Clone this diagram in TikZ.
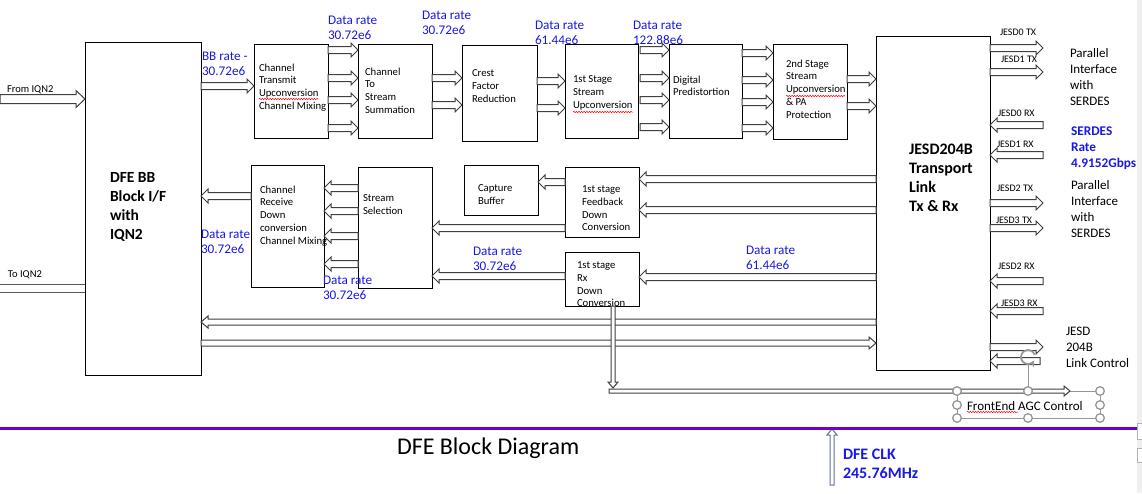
\documentclass[tikz,border=0pt]{standalone}
\usepackage{fontspec}
\setmainfont{Carlito}
\usetikzlibrary{calc,decorations.pathmorphing}
\definecolor{dblue}{RGB}{25,25,230}
\definecolor{purp}{RGB}{110,0,205}
\definecolor{hgray}{RGB}{150,150,150}
\definecolor{clkc}{RGB}{100,115,150}
\newcommand{\BAs}{3.5pt}
\newcommand{\BAh}{7pt}
\newcommand{\BAl}{7pt}
\begin{document}
\begin{tikzpicture}[x=1pt,y=-1pt,
  box/.style={draw=black, line width=0.9pt, inner sep=0pt, outer sep=0pt, anchor=north west, fill=white},
  tx/.style={inner sep=0pt, outer sep=0pt, anchor=north west, align=left},
  tb/.style={tx, font=\fontsize{10.7}{12.75}\selectfont, yshift=3.2pt},
  tblue/.style={tx, text=dblue, font=\fontsize{13.2}{15.7}\selectfont, yshift=3.4pt},
  tbold/.style={tx, font=\bfseries\fontsize{15.5}{19.3}\selectfont, yshift=4pt},
  tjesd/.style={tx, font=\bfseries\fontsize{16}{19}\selectfont, yshift=4.2pt},
  tsm/.style={tx, font=\fontsize{10}{12}\selectfont, yshift=2.3pt},
  tmid/.style={tx, font=\fontsize{13}{16}\selectfont, yshift=3.6pt},
  tserdes/.style={tx, text=dblue, font=\bfseries\fontsize{13.3}{16}\selectfont, yshift=3.3pt},
  barrow/.style={draw=black!75, fill=white, line width=1pt, line join=miter,
    to path={let \p1=(\tikztostart), \p2=(\tikztotarget),
      \n1={veclen(\x2-\x1,\y2-\y1)}, \n2={atan2(\y2-\y1,\x2-\x1)} in
      ([shift={(\p1)},rotate=\n2]0pt,\BAs)
      -- ([shift={(\p1)},rotate=\n2]\n1*1pt-\BAl,\BAs)
      -- ([shift={(\p1)},rotate=\n2]\n1*1pt-\BAl,\BAh)
      -- ([shift={(\p1)},rotate=\n2]\n1*1pt,0pt)
      -- ([shift={(\p1)},rotate=\n2]\n1*1pt-\BAl,-\BAh)
      -- ([shift={(\p1)},rotate=\n2]\n1*1pt-\BAl,-\BAs)
      -- ([shift={(\p1)},rotate=\n2]0pt,-\BAs) -- cycle}},
  bigarr/.style={/utils/exec={\def\BAs{4.5pt}\def\BAh{8.5pt}\def\BAl{9pt}}},
  medarr/.style={/utils/exec={\def\BAs{3pt}\def\BAh{6pt}\def\BAl{7pt}}},
  thinarr/.style={/utils/exec={\def\BAs{2pt}\def\BAh{5pt}\def\BAl{6pt}}},
  shaftln/.style={draw=black!65, line width=0.9pt},
  spell/.style={red, line width=0.5pt, decorate, decoration={snake, amplitude=0.7pt, segment length=2.6pt}},
  handle/.style={draw=hgray, fill=white, line width=1.3pt},
]
\useasboundingbox (0,0) rectangle (1142,493);
\fill[white] (0,0) rectangle (1142,493);
\fill[gray!12] (1137,0) rectangle (1142,493);

% ---------- boxes ----------
\node[box, minimum width=116pt, minimum height=333pt] (dfe) at (85,42) {};
\node[box, minimum width=74pt, minimum height=94pt] (ctx) at (254,44) {};
\node[box, minimum width=74pt, minimum height=94pt] (css) at (358,44) {};
\node[box, minimum width=75pt, minimum height=96pt] (cfr) at (462,45) {};
\node[box, minimum width=73pt, minimum height=94pt] (su1) at (565,44) {};
\node[box, minimum width=73pt, minimum height=94pt] (dpd) at (669,44) {};
\node[box, minimum width=74pt, minimum height=95pt] (su2) at (773,44) {};
\node[box, minimum width=114pt, minimum height=334pt] (jesd) at (876,36) {};
\node[box, minimum width=73pt, minimum height=122pt] (crx) at (251,165) {};
\node[box, minimum width=74pt, minimum height=121pt] (ssel) at (358,167) {};
\node[box, minimum width=74pt, minimum height=50pt] (cap) at (464,165) {};
\node[box, minimum width=74pt, minimum height=70pt] (fb) at (565,167) {};
\node[box, minimum width=74pt, minimum height=54pt] (rx) at (565,252) {};

% ---------- free ends ----------
\coordinate (iqnin) at (0,99);
\coordinate (toiqn) at (0,288);
\coordinate (serR) at (1043,0);
\coordinate (serL) at (1040,0);
\coordinate (agcdrop) at (613,388);
\coordinate (agc0) at (609,391);
\coordinate (agc1) at (1070,391);
\coordinate (clk0) at (832,485);
\coordinate (clk1) at (832,429);

% ---------- block arrows ----------
\draw[barrow,bigarr] (iqnin) to (dfe.west |- iqnin);
\draw[shaftln] ($(toiqn)+(0,-4)$) -- ($(dfe.west |- toiqn)+(0,-4)$);
\draw[shaftln] ($(toiqn)+(0,4)$) -- ($(dfe.west |- toiqn)+(0,4)$);
\draw[barrow] (dfe.east |- 0,86) to (ctx.west |- 0,86);
\foreach \yy in {50,78,100,128} \draw[barrow] (ctx.east |- 0,\yy) to (css.west |- 0,\yy);
\foreach \yy in {78,105} \draw[barrow] (css.east |- 0,\yy) to (cfr.west |- 0,\yy);
\foreach \yy in {81,108} \draw[barrow] (cfr.east |- 0,\yy) to (su1.west |- 0,\yy);
\foreach \yy in {50,78,100,127} \draw[barrow] ($(su1.east |- 0,\yy)+(2,0)$) to (dpd.west |- 0,\yy);
\foreach \yy in {53,80,102,128} \draw[barrow] (dpd.east |- 0,\yy) to (su2.west |- 0,\yy);
\foreach \yy in {79,106} \draw[barrow] (su2.east |- 0,\yy) to (jesd.west |- 0,\yy);
\foreach \yy in {48,72,203,228} \draw[barrow] (jesd.east |- 0,\yy) to (serR |- 0,\yy);
\foreach \yy in {125,155,281,311} \draw[barrow] (serR |- 0,\yy) to (jesd.east |- 0,\yy);
\draw[barrow] (jesd.east |- 0,347) to (serR |- 0,347);
\draw[barrow] (serL |- 0,361) to (jesd.east |- 0,361);
\foreach \yy in {179,210} \draw[barrow] (jesd.west |- 0,\yy) to (fb.east |- 0,\yy);
\draw[barrow] (fb.west |- 0,182) to (cap.east |- 0,182);
\draw[barrow] (fb.west |- 0,228) to (ssel.east |- 0,228);
\draw[barrow] (rx.west |- 0,276) to (ssel.east |- 0,276);
\draw[barrow] (jesd.west |- 0,277) to (rx.east |- 0,277);
\foreach \yy in {188,211,236,264} \draw[barrow] (ssel.west |- 0,\yy) to (crx.east |- 0,\yy);
\draw[barrow] (crx.west |- 0,196) to (dfe.east |- 0,196);
\draw[barrow,medarr] (jesd.west |- 0,322) to (dfe.east |- 0,322);
\draw[barrow,medarr] (dfe.east |- 0,343) to (jesd.west |- 0,343);
\draw[barrow,thinarr] (613,0 |- rx.south) to (agcdrop);

% AGC selection frame
\draw[hgray, line width=0.7pt] (957,391) rectangle (1100,418);
\draw[hgray, line width=0.7pt] (1028,364) -- (1028,391);
\draw[barrow,thinarr] (agc0) to (agc1);
\draw[barrow,thinarr,draw=clkc] (clk0) to (clk1);

% ---------- texts ----------
\node[tbold] (tdfe) at (110,176) {DFE BB\\Block I/F\\with\\IQN2};
\node[tb] (tctx) at (259,67) {Channel\\Transmit\\Upconversion\\Channel Mixing};
\node[tb] (tcss) at (365,71) {Channel\\To\\Stream\\Summation};
\node[tb] (tcfr) at (472,73) {Crest\\Factor\\Reduction};
\node[tb] (tsu1) at (573,79) {1st Stage\\Stream\\Upconversion};
\node[tb] (tdpd) at (673,79) {Digital\\Predistortion};
\node[tb] (tsu2) at (786,63) {2nd Stage\\Stream\\Upconversion\\\& PA\\Protection};
\node[tjesd] (tjesd) at (909,148) {JESD204B\\Transport\\Link\\Tx \& Rx};
\node[tb] (tcrx) at (260,189) {Channel\\Receive\\Down\\conversion\\Channel Mixing};
\node[tb] (tssel) at (363,198) {Stream\\Selection};
\node[tb] (tcap) at (478,188) {Capture\\Buffer};
\node[tb] (tfb) at (582,189) {1st stage\\Feedback\\Down\\Conversion};
\node[tb] (trx) at (577,265) {1st stage\\Rx\\Down\\Conversion};

\node[tblue] (r0) at (202,55) {BB rate -\\30.72e6};
\node[tblue] (r1) at (328,19) {Data rate\\30.72e6};
\node[tblue] (r2) at (422,14) {Data rate\\30.72e6};
\node[tblue] (r3) at (535,24) {Data rate\\61.44e6};
\node[tblue] (r4) at (633,24) {Data rate\\122.88e6};
\node[tblue] (r5) at (201,233) {Data rate\\30.72e6};
\node[tblue] (r6) at (323,279) {Data rate\\30.72e6};
\node[tblue] (r7) at (473,250) {Data rate\\30.72e6};
\node[tblue] (r8) at (746,249) {Data rate\\61.44e6};

\node[tsm] (j0t) at (1000,31) {JESD0 TX};
\node[tsm] (j1t) at (1001,58) {JESD1 TX};
\node[tsm] (j0r) at (998,112) {JESD0 RX};
\node[tsm] (j1r) at (997,143) {JESD1 RX};
\node[tsm] (j2t) at (997,187) {JESD2 TX};
\node[tsm] (j3t) at (996,219) {JESD3 TX};
\node[tsm] (j2r) at (998,265) {JESD2 RX};
\node[tsm] (j3r) at (1001,302) {JESD3 RX};

\node[tmid] (par1) at (1070,52) {Parallel\\Interface\\with\\SERDES};
\node[tserdes] (serd) at (1071,130) {SERDES\\Rate\\4.9152Gbps};
\node[tmid] (par2) at (1071,184) {Parallel\\Interface\\with\\SERDES};
\node[tmid] (lctl) at (1066,331) {JESD\\204B\\Link Control};
\node[tmid] (agct) at (967,405) {FrontEnd AGC Control};

\node[tsm, font=\fontsize{10.5}{12}\selectfont] (fiqn) at (7,88) {From IQN2};
\node[tsm, font=\fontsize{10.5}{12}\selectfont] (tiqn) at (8,273) {To IQN2};

% spell-check underlines
\draw[spell] (259,99) -- (318,99);
\draw[spell] (573,112) -- (633,112);
\draw[spell] (786,96) -- (845,96);
\draw[spell] (967,412) -- (1018,412);

% selection handles
\foreach \p in {(957,391),(1028,391),(1100,391),(957,405),(1100,405),(957,418),(1028,418),(1100,418)}
  \draw[handle] \p circle (4.3pt);
\draw[hgray, line width=1.8pt, ->, >=stealth] ([shift={(1028,357)}]20:7pt) arc[start angle=20, end angle=330, radius=7pt];

% bottom
\draw[purp, line width=3pt] (0,428) -- (1137,428);
\draw[gray!60, fill=white] (1137,423) rectangle (1143,439);
\draw[gray!60, fill=white] (1137,448) rectangle (1143,462);
\node[tx, font=\fontsize{24}{28}\selectfont] (title) at (397,438) {DFE Block Diagram};
\node[tx, text=dblue, font=\bfseries\fontsize{16}{19}\selectfont] (clk) at (843,449) {DFE CLK\\245.76MHz};
\end{tikzpicture}
\end{document}
